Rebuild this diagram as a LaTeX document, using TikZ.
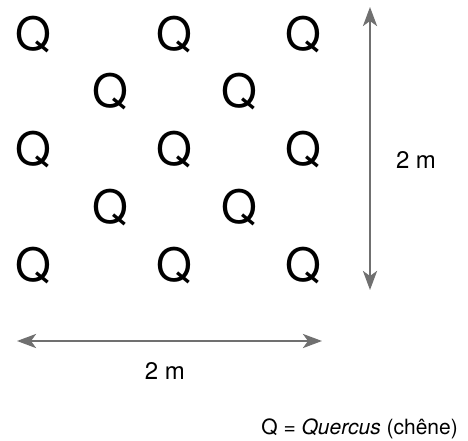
\documentclass[tikz,border=0pt]{standalone}
\usepackage{fontspec}
\setmainfont{TeX Gyre Heros}
\usetikzlibrary{arrows.meta}
\definecolor{dimgray}{HTML}{707070}

\begin{document}
\begin{tikzpicture}[x=1pt, y=-1pt,
  tree/.style={font=\fontsize{46}{46}\selectfont, inner sep=0pt},
  dimline/.style={draw=dimgray, line width=2.8pt, {Stealth[length=19pt, width=14pt, inset=5pt]}-{Stealth[length=19pt, width=14pt, inset=5pt]}},
  dimlabel/.style={font=\fontsize{24}{24}\selectfont, inner sep=0pt}]
\useasboundingbox (0,0) rectangle (468,441);
% outer rows of oaks
\foreach \r/\y in {1/35, 3/150, 5/266}
  \foreach \c/\x in {1/33, 2/174, 3/303}
    \node[tree] (q\r\c) at (\x,\y) {Q};
% inner rows
\foreach \r/\y in {2/92, 4/208}
  \foreach \c/\x in {1/110, 2/239}
    \node[tree] (q\r\c) at (\x,\y) {Q};
% spacing, vertical
\coordinate (vtop) at (370,7);
\coordinate (vbot) at (370,290);
\draw[dimline] (vtop) -- (vbot);
\node[dimlabel] (vlabel) at (416,160) {2 m};
% spacing, horizontal
\coordinate (hleft) at (17,341);
\coordinate (hright) at (322,341);
\draw[dimline] (hleft) -- (hright);
\node[dimlabel] (hlabel) at (165,371) {2 m};
% legend
\node[font=\fontsize{21}{21}\selectfont, inner sep=0pt, anchor=east] (legend) at (458,429) {Q = \textit{Quercus} (chêne)};
\end{tikzpicture}
\end{document}
